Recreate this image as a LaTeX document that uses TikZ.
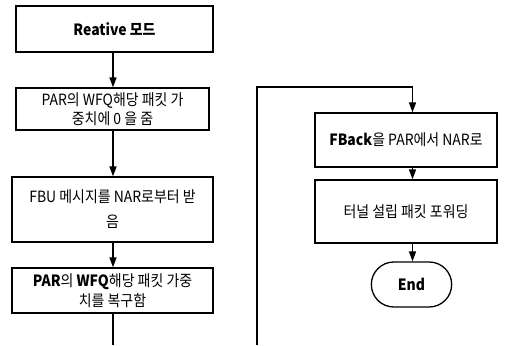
\documentclass[tikz,border=0pt]{standalone}
\usepackage{fontspec}
\setmainfont{Noto Sans CJK KR}[FakeStretch=0.9]
\usetikzlibrary{arrows.meta,shapes.misc}
\begin{document}
\begin{tikzpicture}[x=1pt,y=-1pt,
  box/.style={draw,line width=1.3pt,minimum width=#1,align=center,inner sep=1pt,font=\fontsize{15.5}{19.5}\selectfont},
  term/.style={draw,line width=1.3pt,rounded rectangle,minimum width=87pt,minimum height=45pt,font=\fontsize{15.5}{19}\selectfont\bfseries},
  conn/.style={line width=1.5pt},
  arr/.style={conn,-{Triangle[length=10pt,width=7pt]}}]
\useasboundingbox (0,0) rectangle (508,345);
\node[box=197pt,minimum height=46pt] (b1) at (114.5,29) {\textbf{Reative 모드}};
\node[box=193pt,minimum height=42pt] (b2) at (112.5,109) {PAR의 WFQ해당 패킷 가\\중치에 0 을 줌};
\node[box=201pt,minimum height=65pt,font=\fontsize{15.5}{25}\selectfont] (b3) at (112.5,209.5) {FBU 메시지를 NAR로부터 받\\음};
\node[box=201pt,minimum height=45pt] (b4) at (112.5,290.5) {\textbf{PAR}의 \textbf{WFQ}해당 패킷 가중\\치를 복구함};
\node[box=182pt,minimum height=54pt] (b5) at (406,140) {\textbf{FBack}을 PAR에서 NAR로};
\node[box=182pt,minimum height=63pt] (b6) at (406,211.5) {터널 설립 패킷 포워딩};
\node[term] (e) at (411.5,284.5) {End};
\coordinate (l0) at (113,345);
\coordinate (r0) at (257,345);
\coordinate (r1) at (257,87);
\coordinate (r2) at (412.5,87);
\draw[arr] (b1.south -| 113,0) -- (b2.north -| 113,0);
\draw[arr] (b2.south -| 113,0) -- (b3.north -| 113,0);
\draw[arr] (b3.south -| 113,0) -- (b4.north -| 113,0);
\draw[conn] (b4.south -| 113,0) -- (l0);
\draw[arr] (r0) -- (r1) -- (r2) -- (b5.north -| r2);
\draw[arr] (b5.south -| r2) -- (b6.north -| r2);
\draw[arr] (b6.south -| r2) -- (e.north -| r2);
\end{tikzpicture}
\end{document}
